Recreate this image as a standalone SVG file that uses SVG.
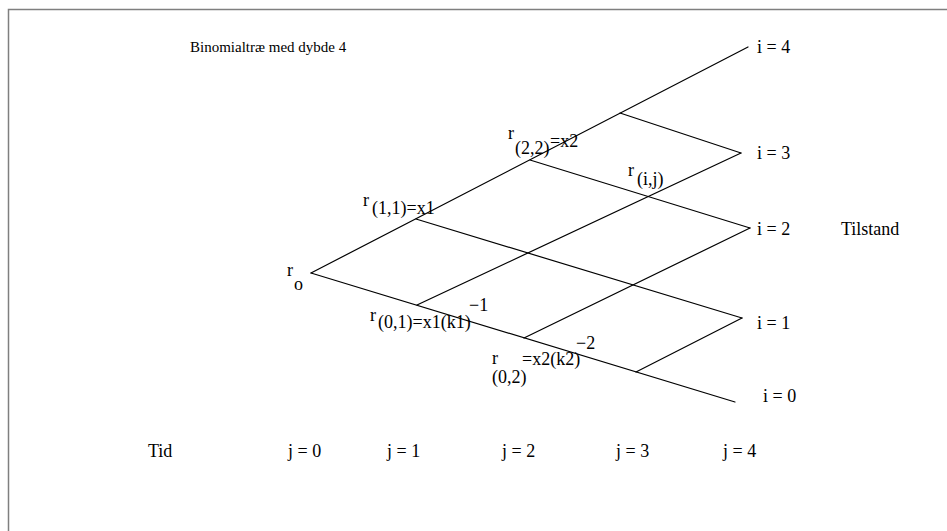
<svg xmlns="http://www.w3.org/2000/svg" width="947" height="531" viewBox="0 0 947 531">
<style>
text{font-family:"Liberation Serif","Times New Roman",serif;fill:#000;font-size:18px}
.t{font-size:15px}
.lt{stroke:#000;stroke-width:1.2;fill:none;stroke-linecap:round}
.frame{stroke:#7f7f7f;stroke-width:1.5;fill:none}
</style>
<rect width="947" height="531" fill="#fff"/>
<path class="frame" d="M8.5,531 V9.5 H947"/>
<g id="connectors">
<line class="lt" x1="311" y1="273" x2="748" y2="47"/>
<line class="lt" x1="311" y1="273" x2="735" y2="402"/>
<line class="lt" x1="416" y1="219" x2="742" y2="318"/>
<line class="lt" x1="530" y1="160" x2="750" y2="228"/>
<line class="lt" x1="620" y1="113" x2="741" y2="153"/>
<line class="lt" x1="417" y1="305" x2="741" y2="153"/>
<line class="lt" x1="524" y1="338" x2="750" y2="228"/>
<line class="lt" x1="636" y1="372" x2="742" y2="318"/>
</g>
<g id="title"><text class="t" x="190" y="52">Binomialtræ med dybde 4</text></g>
<g id="node-r0"><text x="287" y="276">r</text><text x="294" y="290">o</text></g>
<g id="node-r11"><text x="363" y="206">r</text><text x="372" y="214">(1,1)=x1</text></g>
<g id="node-r22"><text x="508" y="139">r</text><text x="515" y="154">(2,2)</text><text x="550" y="147">=x2</text></g>
<g id="node-rij"><text x="628" y="176">r</text><text x="637" y="185">(i,j)</text></g>
<g id="node-r01"><text x="370" y="321">r</text><text x="378" y="328">(0,1)=x1(k1)</text><text x="469" y="311">−1</text></g>
<g id="node-r02"><text x="492" y="364">r</text><text x="522" y="365">=x2(k2)</text><text x="492" y="383">(0,2)</text><text x="576" y="349">−2</text></g>
<g id="states">
<text x="757" y="53">i = 4</text>
<text x="757" y="159">i = 3</text>
<text x="757" y="235">i = 2</text>
<text x="841" y="235">Tilstand</text>
<text x="757" y="329">i = 1</text>
<text x="763" y="402">i  = 0</text>
</g>
<g id="time">
<text x="148" y="457">Tid</text>
<text x="288" y="457">j = 0</text>
<text x="387" y="457">j = 1</text>
<text x="502" y="457">j = 2</text>
<text x="616" y="457">j = 3</text>
<text x="723" y="457">j = 4</text>
</g>
</svg>
